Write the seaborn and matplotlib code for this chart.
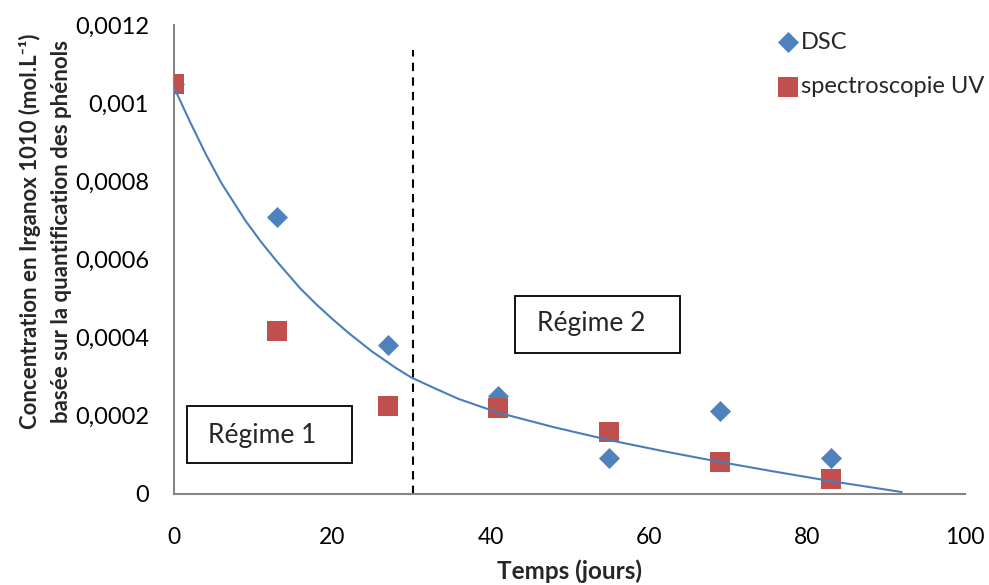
import numpy as np
import pandas as pd
import matplotlib.pyplot as plt
import seaborn as sns
from matplotlib.patches import Rectangle
from matplotlib.ticker import FuncFormatter

# valeurs
temps = [0, 13, 27, 41, 55, 69, 83]
dsc = [0.00105, 0.000708, 0.00038, 0.000251, 0.0000925, 0.000213, 0.000093]
uv = [0.00105, 0.000418, 0.000226, 0.00022, 0.000159, 0.000082, 0.0000385]

# courbe de tendance (points relevés)
courbe_x = [0, 2, 4, 6, 9, 11, 13, 16, 18, 20, 22, 25, 28, 30, 33, 36, 41,
            48, 55, 62, 69, 76, 83, 92]
courbe_y = [0.00104, 0.000953, 0.00087, 0.000795, 0.0007, 0.000645, 0.000595,
            0.000525, 0.000485, 0.000448, 0.000413, 0.000365, 0.000323,
            0.000298, 0.00027, 0.000243, 0.000208, 0.000171, 0.000138,
            0.000109, 0.000082, 0.000057, 0.000033, 0.000005]

x_ticks = [0, 20, 40, 60, 80, 100]
y_ticks = [0, 0.0002, 0.0004, 0.0006, 0.0008, 0.001, 0.0012]
limite_regime = 30.2

df = pd.DataFrame({'Temps': temps, 'DSC': dsc, 'UV': uv})
df_courbe = pd.DataFrame({'x': courbe_x, 'y': courbe_y})

sns.set_theme(style='white')
plt.rcParams['font.family'] = ['Lato', 'DejaVu Sans']

fig = plt.figure(figsize=(9.89, 5.85), dpi=100)
ax = fig.add_axes([0.176, 0.1556, 0.7997, 0.8017])

sns.scatterplot(data=df, x='Temps', y='DSC', marker='D', s=115, color='#4F81BD',
                linewidth=0, ax=ax, label='DSC', zorder=3)
sns.scatterplot(data=df, x='Temps', y='UV', marker='s', s=215, color='#C0504D',
                linewidth=0, ax=ax, label='spectroscopie UV', zorder=4)
sns.lineplot(data=df_courbe, x='x', y='y', color='#4A7EBB', linewidth=1.5,
             ax=ax, zorder=5, legend=False)

ax.axvline(limite_regime, ymin=0, ymax=0.001136 / 0.0012, color='black',
           linestyle=(0, (4, 3)), linewidth=1.5, zorder=2)

# encadrés des régimes
ax.add_patch(Rectangle((1.64, 0.0000793), 20.9, 0.000146, fill=False,
                       edgecolor='black', linewidth=1.3, zorder=2))
ax.text(11.1, 0.000149, 'Régime 1', ha='center', va='center', fontsize=19)
ax.add_patch(Rectangle((43.1, 0.000361), 20.9, 0.000146, fill=False,
                       edgecolor='black', linewidth=1.3, zorder=2))
ax.text(52.7, 0.000437, 'Régime 2', ha='center', va='center', fontsize=19)

ax.set_xlim(0, 100)
ax.set_ylim(0, 0.0012)
ax.set_xticks(x_ticks)
ax.set_yticks(y_ticks)
ax.yaxis.set_major_formatter(FuncFormatter(
    lambda v, p: f'{v:.4f}'.rstrip('0').rstrip('.').replace('.', ',')))
ax.tick_params(axis='both', length=0, colors='black')
ax.tick_params(axis='x', pad=24, labelsize=16.5)
ax.tick_params(axis='y', pad=18, labelsize=17)

for side in ['top', 'right']:
    ax.spines[side].set_visible(False)
for side in ['left', 'bottom']:
    ax.spines[side].set_color('#868686')
    ax.spines[side].set_linewidth(1.5)

ax.set_xlabel('Temps (jours)', fontsize=17.5, fontweight='bold')
ax.xaxis.set_label_coords(0.5, -0.14)
ax.set_ylabel('Concentration en Irganox 1010 (mol.L⁻¹)\nbasée sur la quantification des phénols',
              fontsize=16, fontweight='bold', linespacing=1.6)
ax.yaxis.set_label_coords(-0.129, 0.56)

ax.legend(loc='upper left', bbox_to_anchor=(0.775, 0.962), bbox_transform=fig.transFigure,
          frameon=False, fontsize=17, handletextpad=0.05, labelspacing=1.0,
          handlelength=1.0, borderaxespad=0)

fig.savefig('out.png', dpi=100)
